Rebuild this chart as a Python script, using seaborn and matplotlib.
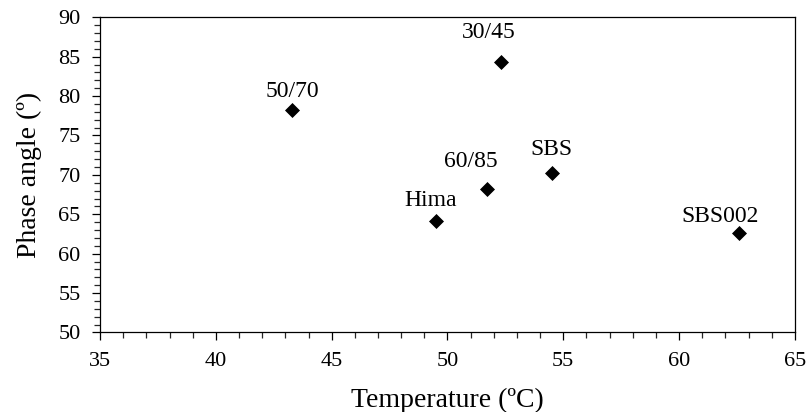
import matplotlib
matplotlib.use("Agg")
import matplotlib.pyplot as plt
import seaborn as sns
import pandas as pd
from matplotlib.ticker import MultipleLocator

labels = ["50/70", "30/45", "60/85", "Hima", "SBS", "SBS002"]
temperature = [43.3, 52.3, 51.7, 49.5, 54.5, 62.6]
phase_angle = [78.2, 84.3, 68.2, 64.1, 70.2, 62.6]
label_offsets = [(0, 19), (-12, 30), (-16, 28), (-5, 21), (0, 24), (-19, 17)]

df = pd.DataFrame({"Temperature": temperature, "Phase": phase_angle, "Label": labels})

sns.set_theme(style="white")
plt.rcParams['font.family'] = ['Liberation Serif', 'DejaVu Serif']

fig = plt.figure(figsize=(8.07, 4.12), dpi=100)
ax = fig.add_axes([0.124, 0.193, 0.861, 0.765])

sns.scatterplot(data=df, x="Temperature", y="Phase", marker="D", s=50,
                color="black", edgecolor="black", ax=ax, zorder=3)

for lab, x, y, (dx, dy) in zip(labels, temperature, phase_angle, label_offsets):
    ax.annotate(lab, (x, y), xytext=(dx, dy), textcoords="offset pixels",
                ha="center", va="center", fontsize=17, color="black")

ax.set_xlim(35, 65)
ax.set_ylim(50, 90)
ax.xaxis.set_major_locator(MultipleLocator(5))
ax.yaxis.set_major_locator(MultipleLocator(5))
ax.xaxis.set_minor_locator(MultipleLocator(1))
ax.yaxis.set_minor_locator(MultipleLocator(1))
ax.tick_params(axis="both", which="major", direction="out", length=6, width=0.9,
               labelsize=16, colors="black", pad=8)
ax.tick_params(axis="both", which="minor", direction="out", length=4.5, width=0.9)
ax.tick_params(bottom=True, left=True, which="both")
for s in ax.spines.values():
    s.set_color("black")
    s.set_linewidth(0.9)

ax.set_xlabel("Temperature (ºC)", fontsize=20, color="black", labelpad=12)
ax.set_ylabel("Phase angle (º)", fontsize=20, color="black", labelpad=12)

fig.savefig("out.png", dpi=100)
